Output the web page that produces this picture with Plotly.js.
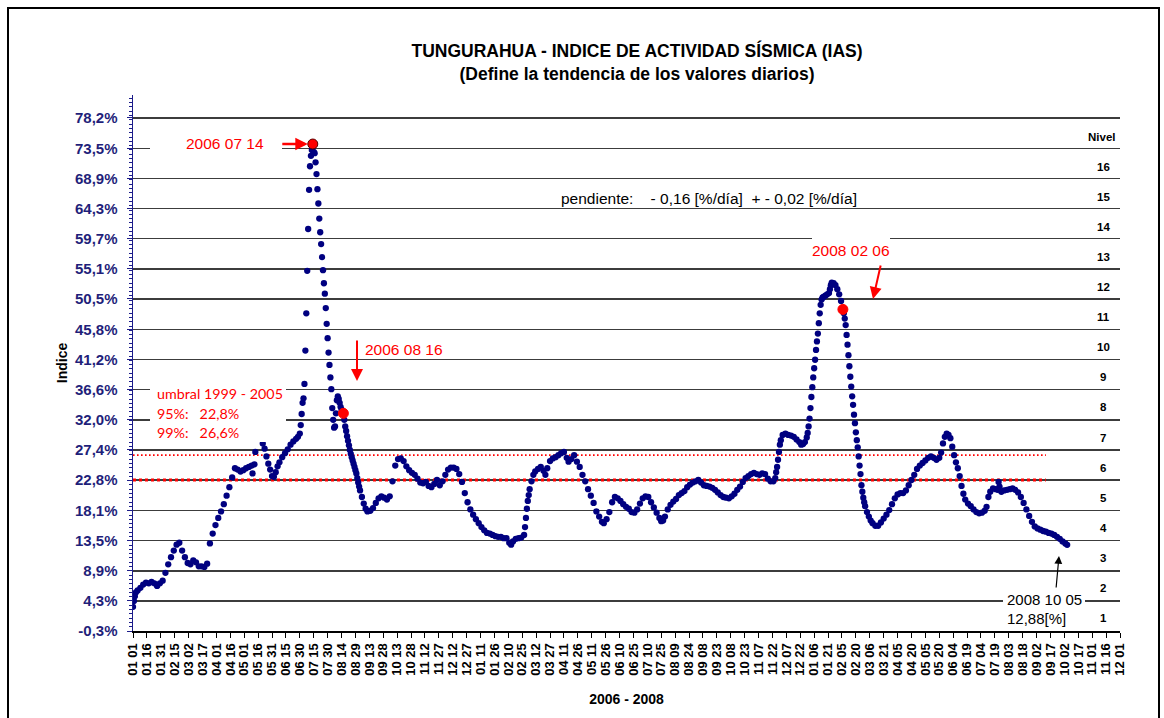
<!DOCTYPE html>
<html>
<head>
<meta charset="utf-8">
<script src="https://cdn.plot.ly/plotly-3.0.1.min.js"></script>
<style>html,body{margin:0;padding:0;background:#fff;}#chart{width:1164px;height:718px;}</style>
</head>
<body>
<div id="chart"></div>
<script>
// ---------------- DATA ----------------
// day of year (0 = 1 January) and IAS value [%]
const days2006 = [0,1,2,3,5,8,11,14,17,20,23,26,29,32,35,38,41,44,47,50,
  53,56,59,62,65,68,71,74,77,80,83,86,89,92,95,98,101,104,107,110,
  113,116,119,122,125,128,129,131,132,140,142,144,146,148,150,152,154,156,158,161,
  164,167,170,173,176,178,
  180,181,182,183,184,185,186,187,188,189,190,191,192,193,194,195,196,197,198,199,
  200,201,202,203,204,205,206,207,208,209,210,211,212,213,214,215,216,217,218,219,
  220,221,222,223,224,225,226,227,228,229,230,231,232,233,234,235,236,237,238,239,
  240,241,242,243,244,245,
  247,249,251,253,256,259,262,265,268,271,274,277,280,283,286,289,292,295,298,301,
  304,307,310,313,316,319,322,325,328,331,334,337,340,343,346,349,352,355,358,361,364];
const ias2006 = [3.4,4.3,5.0,5.6,5.9,6.3,6.8,7.1,7.0,7.2,7.0,6.6,7.0,7.4,8.6,9.9,11.0,12.0,12.9,13.2,
  12.0,11.0,10.1,9.9,10.5,10.2,9.6,9.6,9.5,10.0,13.1,14.6,15.9,17.0,18.0,19.1,20.4,21.7,23.2,24.6,
  24.4,24.1,24.3,24.6,24.8,25.0,23.8,25.2,27.1,28.4,27.6,26.4,25.3,24.4,23.4,23.3,24.0,24.9,25.5,26.3,
  26.9,27.5,28.2,28.7,29.1,29.4,
  29.9,31.2,32.9,34.6,35.3,37.5,42.6,48.3,54.8,61.2,67.2,70.8,72.4,73.3,74.2,73.0,72.8,71.4,69.6,67.3,
  65.1,62.8,60.7,58.9,56.9,54.9,52.9,51.3,49.1,46.7,44.5,42.3,40.4,38.5,36.7,33.8,32.0,30.8,31.0,33.0,
  35.0,35.6,35.2,34.6,34.0,33.6,33.3,33.0,32.0,31.0,30.3,29.5,28.8,28.1,27.4,26.8,26.3,25.8,25.3,24.8,
  24.3,23.8,23.1,22.4,21.8,21.2,
  20.2,19.2,18.4,18.0,18.1,18.5,19.3,20.0,20.3,20.1,19.8,20.3,22.6,25.0,26.0,26.1,25.7,24.9,24.3,23.9,
  23.6,23.0,22.4,22.3,22.5,21.9,21.7,22.2,22.8,22.0,22.6,23.6,24.4,24.7,24.7,24.5,23.7,22.5,20.8,19.4,18.3];

const days2007 = [2,5,8,11,14,17,20,23,26,29,32,35,38,41,43,45,48,51,54,57,
  58,59,60,61,62,63,65,67,69,72,75,78,80,82,85,88,91,94,97,100,
  103,105,108,111,114,117,120,123,126,129,132,135,138,141,143,146,149,152,155,158,
  161,164,167,170,173,176,179,182,185,188,191,194,197,200,203,205,207,209,212,215,
  218,221,224,227,230,233,236,239,242,245,248,251,254,257,260,263,266,269,272,275,
  278,281,284,287,290,293,296,299,302,305,308,311,314,317,320,323,326,328,329,330,
  331,332,333,334,336,339,342,345,348,351,354,356,358,360,362,363,364];
const ias2007 = [17.5,16.8,16.2,15.6,15.1,14.7,14.6,14.4,14.2,14.1,14.1,13.9,13.9,13.2,12.9,13.4,13.8,13.9,14.0,14.4,
  15.6,17.0,18.4,19.6,20.5,21.4,22.6,23.6,24.1,24.5,24.8,24.2,23.6,24.6,25.7,26.1,26.3,26.6,26.9,27.1,
  26.2,25.6,26.0,26.6,25.6,24.8,23.6,22.6,21.4,20.4,19.3,18.0,17.2,16.4,16.2,16.8,17.9,19.4,20.2,20.0,
  19.6,19.1,18.7,18.4,17.9,17.8,18.3,19.2,20.0,20.3,20.2,19.4,18.6,17.8,17.0,16.5,16.6,17.2,18.3,19.0,
  19.5,19.9,20.5,20.8,21.1,21.7,22.1,22.4,22.6,22.8,22.4,22.0,21.9,21.8,21.6,21.3,20.9,20.5,20.2,20.1,
  20.0,20.3,20.7,21.3,21.8,22.5,23.1,23.4,23.7,23.9,23.7,23.6,23.8,23.7,23.0,22.6,22.6,23.1,24.0,24.8,
  25.9,27.1,28.2,28.9,29.7,29.9,29.7,29.6,29.4,29.0,28.6,28.2,28.3,28.6,29.3,30.0,31.0];

const days2008 = [0,1,2,3,4,5,6,7,8,9,10,11,12,13,14,15,
  17,19,21,22,23,24,26,28,30,32,34,
  36,37,38,39,40,41,42,43,44,45,46,47,48,49,50,51,52,53,54,55,56,57,58,59,60,
  62,64,66,68,71,74,77,80,83,86,89,92,95,98,101,104,107,110,113,116,
  119,122,125,128,131,134,137,140,142,144,146,148,150,152,154,156,158,160,162,164,
  166,168,171,174,177,180,183,186,189,191,193,195,198,201,203,204,205,207,210,213,
  216,219,222,225,228,231,234,237,240,243,246,249,252,255,258,261,264,267,270,273,276,278];
const ias2008 = [32.2,33.8,35.5,37.0,38.5,39.9,41.2,42.7,44.0,45.2,46.8,48.3,49.6,50.4,50.7,50.8,
  51.0,51.2,51.4,52.0,52.6,53.0,52.9,52.6,52.0,51.2,50.2,
  48.9,48.3,47.5,46.5,45.0,43.5,41.9,40.2,38.6,37.1,35.6,34.3,32.8,31.5,30.1,28.9,27.8,26.4,25.0,23.7,22.0,21.0,20.1,19.4,18.8,
  17.9,17.2,16.6,16.2,15.8,15.8,16.3,16.9,17.5,18.2,19.1,20.0,20.6,20.8,20.8,21.2,22.0,22.8,23.6,24.5,
  25.0,25.4,25.8,26.2,26.4,26.2,25.9,26.2,27.0,28.4,29.4,29.9,29.7,29.2,27.9,26.6,25.5,24.6,23.4,21.9,
  20.7,19.8,19.2,18.8,18.3,17.9,17.7,17.8,18.1,18.7,20.2,21.0,21.5,21.4,21.3,22.5,21.8,21.0,21.2,21.3,
  21.4,21.5,21.3,20.9,20.2,19.3,18.3,17.3,16.4,15.7,15.4,15.2,15.0,14.9,14.7,14.6,14.4,14.1,13.8,13.4,13.1,12.88];

// highlighted days
const hiDates = ['2006-07-14', '2006-08-16', '2008-02-06'];
const hiVals  = [74.2, 33.0, 48.9];

// thresholds 1999-2005
const umbralVals  = [22.8, 26.6];
const umbralStart = '2006-01-01';
const umbralEnd   = '2008-09-12';

// y axis ticks
const yTickVals = [-0.3,4.3,8.9,13.5,18.1,22.8,27.4,32.0,36.6,41.2,45.8,50.5,55.1,59.7,64.3,68.9,73.5,78.2];
const yTickText = ['-0,3%','4,3%','8,9%','13,5%','18,1%','22,8%','27,4%','32,0%','36,6%','41,2%','45,8%','50,5%','55,1%','59,7%','64,3%','68,9%','73,5%','78,2%'];
const niveles = [1,2,3,4,5,6,7,8,9,10,11,12,13,14,15,16];

// ---------------- BUILD ----------------
function check(a,b,n){ if(a.length!==b.length) throw new Error(n+' length mismatch '+a.length+' vs '+b.length); }
check(days2006, ias2006, '2006'); check(days2007, ias2007, '2007'); check(days2008, ias2008, '2008');
function toDate(year, doy){ return new Date(Date.UTC(year,0,1+doy)).toISOString().slice(0,10); }
const xs = [].concat(days2006.map(d=>toDate(2006,d)), days2007.map(d=>toDate(2007,d)), days2008.map(d=>toDate(2008,d)));
const ys = [].concat(ias2006, ias2007, ias2008);

const FONT = 'Liberation Sans, Arial, sans-serif';
const RED = '#ff0000';
const NAVY = '#000080';
const AXBLUE = '#1c1c8a';

// plot-area pixel box (for decorations only)
const L = 133, R = 1120, T = 95, B = 631;
const pX = px => (px - L) / (R - L);
const pY = py => (B - py) / (B - T);

const step = yTickVals[1] - yTickVals[0];

const traces = [
  { type:'scatter', mode:'markers', x: xs, y: ys, hoverinfo:'x+y',
    marker:{ color: NAVY, size: 6.3 } },
  { type:'scatter', mode:'markers', x: hiDates, y: hiVals,
    marker:{ color: RED, size: 10, line:{ color:['#5a0000', RED, RED], width:1 } } }
];

const shapes = [];
// threshold dotted lines
shapes.push({ type:'line', xref:'x', yref:'y', x0: umbralStart, x1: umbralEnd, y0: umbralVals[0], y1: umbralVals[0],
  layer:'between', line:{ color: RED, width: 3, dash:'3px,3px' } });
shapes.push({ type:'line', xref:'x', yref:'y', x0: umbralStart, x1: umbralEnd, y0: umbralVals[1], y1: umbralVals[1],
  layer:'between', line:{ color: RED, width: 1.6, dash:'1.6px,2.4px' } });
// white label boxes hiding the grid
function wbox(x0,y0,x1,y1){ shapes.push({ type:'rect', xref:'paper', yref:'paper', x0:pX(x0), x1:pX(x1), y0:pY(y1), y1:pY(y0),
  layer:'above', fillcolor:'#ffffff', line:{ width:0 } }); }
wbox(150,137,282,156);
wbox(150,384,286,442);
wbox(812,234,890,262);
wbox(1003,590,1085,628);
// outer frame
shapes.push({ type:'rect', xref:'paper', yref:'paper', x0:pX(8), x1:pX(1159), y0:pY(740), y1:pY(8),
  layer:'above', fillcolor:'rgba(0,0,0,0)', line:{ color:'#000', width:2 } });

const annotations = [];
function txt(text, px, py, opts){
  annotations.push(Object.assign({ text, xref:'paper', yref:'paper', x:pX(px), y:pY(py), showarrow:false,
    xanchor:'center', yanchor:'middle', font:{ family: FONT, size: 14, color: RED } }, opts||{}));
}
// 2006 07 14
txt('2006 07 14', 225, 144, { font:{ family: FONT, size: 15.5, color: RED } });
annotations.push({ x: hiDates[0], y: hiVals[0], xref:'x', yref:'y', text:'', showarrow:true,
  ax:-32, ay:0, arrowcolor: RED, arrowwidth:2.5, arrowhead:2, arrowsize:1, standoff:5 });
// 2006 08 16
txt('2006 08 16', 404, 349, { font:{ family: FONT, size: 15.5, color: RED } });
annotations.push({ xref:'paper', yref:'paper', x:pX(357), y:pY(381), text:'', showarrow:true,
  ax:0, ay:-42, arrowcolor: RED, arrowwidth:2, arrowhead:2, arrowsize:1.2 });
// 2008 02 06
txt('2008 02 06', 851, 251, { font:{ family: FONT, size: 15.5, color: RED } });
annotations.push({ xref:'paper', yref:'paper', x:pX(873), y:pY(299), text:'', showarrow:true,
  ax:8, ay:-35, arrowcolor: RED, arrowwidth:2, arrowhead:2, arrowsize:1.2 });
// umbral
const UF = 'Lato, Liberation Sans, sans-serif';
txt('umbral 1999 - 2005', 155, 394, { xanchor:'left', font:{ family: UF, size: 14.3, color: RED } });
txt('95%:&nbsp;&nbsp;&nbsp;' + String(umbralVals[0]).replace('.', ',') + '%', 155, 413, { xanchor:'left', font:{ family: UF, size: 14.3, color: RED } });
txt('99%:&nbsp;&nbsp;&nbsp;' + String(umbralVals[1]).replace('.', ',') + '%', 155, 432, { xanchor:'left', font:{ family: UF, size: 14.3, color: RED } });
// pendiente
txt('pendiente:&nbsp;&nbsp;&nbsp;&nbsp;- 0,16 [%/día]&nbsp;&nbsp;+ - 0,02 [%/día]', 709, 198, { font:{ family: FONT, size: 15.5, color:'#000' } });
// niveles
annotations.push({ text:'<b>Nivel</b>', xref:'paper', yref:'y', x:pX(1102), y: yTickVals[0] + step*16.5, showarrow:false,
  xanchor:'center', yanchor:'middle', yshift:-2, font:{ family: FONT, size: 11.5, color:'#000' } });
niveles.forEach(n => annotations.push({ text:'<b>'+n+'</b>', xref:'paper', yref:'y', x:pX(1103), y: yTickVals[0] + step*(n-0.5),
  showarrow:false, xanchor:'center', yanchor:'middle', yshift:-2, font:{ family: FONT, size: 11.5, color:'#000' } }));
// last value
txt('2008 10 05', 1044, 599, { font:{ family: FONT, size: 15, color:'#000' } });
txt(String(ias2008[ias2008.length-1]).replace('.', ',') + '[%]', 1036, 618, { font:{ family: FONT, size: 15, color:'#000' } });
annotations.push({ xref:'paper', yref:'paper', x:pX(1059), y:pY(556), text:'', showarrow:true,
  ax:-3, ay:33, arrowcolor:'#000', arrowwidth:1.2, arrowhead:2, arrowsize:1.3 });

const layout = {
  width:1164, height:718,
  margin:{ l:L, r:1164-R, t:T, b:718-B, pad:0 },
  paper_bgcolor:'#fff', plot_bgcolor:'#fff',
  showlegend:false,
  font:{ family: FONT, color:'#000' },
  title:{ text:'<b>TUNGURAHUA - INDICE DE ACTIVIDAD SÍSMICA (IAS)<br>(Define la tendencia de los valores diarios)</b>',
    font:{ family: FONT, size: 17.5, color:'#000' }, xref:'container', yref:'container',
    x: 637/1164, xanchor:'center', y: 1 - 57/718, yanchor:'middle' },
  xaxis:{
    type:'date', range:['2006-01-01','2008-12-01'], autorange:false,
    tickmode:'linear', tick0:'2006-01-01', dtick: 15*86400000, tickformat:'%m %d', tickangle:-90,
    ticks:'outside', ticklen:5, tickcolor:'#000', tickwidth:1,
    showline:true, linecolor:'#000', linewidth:2, showgrid:false, zeroline:false,
    tickfont:{ family: FONT, size: 13, color:'#000', weight:'bold' },
    title:{ text:'<b>2006 - 2008</b>', font:{ family: FONT, size: 14, color:'#000' }, standoff: 19 },
    automargin:false
  },
  yaxis:{
    range:[-0.3, 81.7], autorange:false,
    tickmode:'array', tickvals: yTickVals, ticktext: yTickText,
    ticks:'outside', ticklen:5, tickcolor: AXBLUE, tickwidth:1,
    minor:{ tickmode:'linear', tick0:-0.3, dtick: step/7, ticks:'outside', ticklen:3, tickcolor: AXBLUE, showgrid:false },
    showline:true, linecolor: AXBLUE, linewidth:1.5,
    showgrid:true, gridcolor:'#3c3c3c', gridwidth:1.3, zeroline:false,
    tickfont:{ family: FONT, size: 15, color:'#1f1f7a', weight:'bold' },
    ticklabelstandoff: 6,
    title:{ text:'<b>Indice</b>', font:{ family: FONT, size: 14, color:'#000' }, standoff: 4 },
    automargin:false
  },
  shapes, annotations
};

Plotly.newPlot('chart', traces, layout, { displayModeBar:false, staticPlot:true });
</script>
</body>
</html>
